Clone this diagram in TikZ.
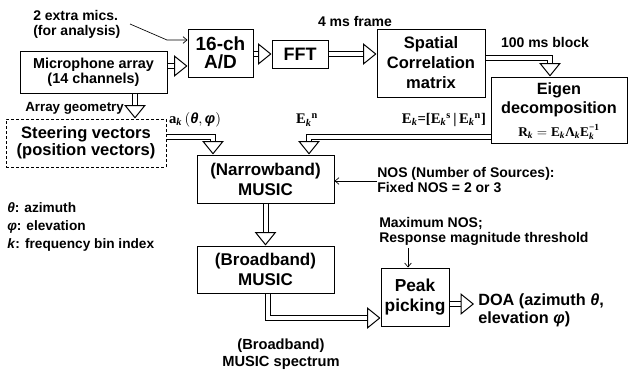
\documentclass[tikz,border=0pt]{standalone}
\usepackage{fontspec}
\usepackage{amsmath}
\setmainfont{Liberation Sans}
\newfontfamily\tms{Liberation Serif}
\usetikzlibrary{arrows.meta,calc}
\newcommand\bT[1]{\text{\tms\bfseries #1}}
\newcommand\kI{\text{\tms\bfseries\itshape k}}
\newcommand\gk[1]{\text{\bfseries\itshape #1}}
\begin{document}
\begin{tikzpicture}[x=0.75pt,y=-0.75pt,
  box/.style={draw, line width=0.75pt, inner sep=0pt, align=center, font=\bfseries\fontsize{12.4}{15}\selectfont},
  wh/.style 2 args={minimum width={#1*0.75pt}, minimum height={#2*0.75pt}},
  lbl/.style={inner sep=0pt, align=left, font=\bfseries\fontsize{10.5}{11.25}\selectfont},
  mlbl/.style={inner sep=0pt, font=\fontsize{11}{13}\selectfont},
  dbl/.style={double, double distance=3pt, line width=0.75pt, -{Triangle[open,length=10pt,width=16pt,fill=white]}},
  thinarrow/.style={line width=0.5pt, -{Straight Barb[length=3pt,width=5pt]}}]
\useasboundingbox (0,0) rectangle (629,371);

% boxes
\node[box, wh={147}{42}, font=\bfseries\fontsize{10.8}{11.25}\selectfont] (mic) at (93.5,72) {Microphone array\\(14 channels)};
\node[box, wh={65}{48}, font=\bfseries\fontsize{14.25}{13.9}\selectfont] (ad) at (220.5,53) {16-ch\\A/D};
\node[box, wh={56}{28}, font=\bfseries\fontsize{13.5}{16}\selectfont] (fft) at (300,54) {FFT};
\node[box, wh={108}{68}] (spat) at (431,63) {Spatial\\Correlation\\matrix};
\node[box, wh={136}{66}] (eig) at (559,110) {};
\node[align=center, inner sep=0pt, font=\bfseries\fontsize{12.2}{14}\selectfont] (eigtxt) at (559,100) {Eigen\\decomposition};
\node[inner sep=0pt, font=\fontsize{10}{11}\selectfont] (req) at (559,132) {$\bT{R}_{\kI} = \bT{E}_{\kI}\bT{Λ}_{\kI}\bT{E}_{\kI}^{\bT{−1}}$};
\node[box, wh={160}{48}, dashed, dash pattern=on 2.25pt off 1.5pt, font=\bfseries\fontsize{12.4}{12.75}\selectfont] (steer) at (86,143) {Steering vectors\\(position vectors)};
\node[box, wh={137}{48}, font=\bfseries\fontsize{12.75}{15}\selectfont] (nb) at (265.5,179) {(Narrowband)\\MUSIC};
\node[box, wh={137}{47}, font=\bfseries\fontsize{12.75}{15}\selectfont] (bb) at (265.5,269.5) {(Broadband)\\MUSIC};
\node[box, wh={68}{58}, font=\bfseries\fontsize{13}{14.5}\selectfont] (peak) at (415,297) {Peak\\picking};

% labels
\node[lbl, anchor=west] (extra) at (33,24.5) {2 extra mics.\\(for analysis)};
\node[lbl] (frame) at (355,21) {4 ms frame};
\node[lbl] (block) at (545,42) {100 ms block};
\node[lbl, anchor=west, font=\bfseries\fontsize{10}{11}\selectfont] (geom) at (25,108) {Array geometry};
\node[mlbl] (ak) at (195,120) {$\bT{a}_{\kI}\,(\gk{θ},\gk{φ})$};
\node[mlbl] (en) at (307,120) {$\bT{E}_{\kI}{}^{\bT{n}}$};
\node[mlbl] (ek) at (444,120) {$\bT{E}_{\kI}\bT{=[}\bT{E}_{\kI}{}^{\bT{s}}\,\bT{|}\,\bT{E}_{\kI}{}^{\bT{n}}\bT{]}$};
\node[lbl, anchor=west] (nos) at (377,180.5) {NOS (Number of Sources):\\Fixed NOS = 2 or 3};
\node[lbl, anchor=west, font=\bfseries\fontsize{10.25}{13.5}\selectfont] (legend) at (7,227) {\textit{θ}: azimuth\\\textit{φ}: elevation\\\textit{k}: frequency bin index};
\node[lbl, anchor=west] (maxnos) at (379,231.5) {Maximum NOS;\\Response magnitude threshold};
\node[lbl, anchor=west, font=\bfseries\fontsize{12.2}{13.5}\selectfont] (doa) at (478,310) {DOA (azimuth \textit{θ},\\elevation \textit{φ})};
\node[lbl, align=center, font=\bfseries\fontsize{11}{12.5}\selectfont] (spec) at (281,354) {(Broadband)\\MUSIC spectrum};

% double arrows
\draw[dbl] (mic.east |- 0,66) -- (ad.west |- 0,66);
\draw[dbl] (ad.east |- fft.west) -- (fft.west);
\draw[dbl] (fft.east) -- (fft.east -| spat.west);
\draw[dbl] (spat.east |- 0,58) -| (eig.north -| 550,0);
\draw[dbl] (eig.west |- 0,137) -| (nb.north -| 309,0);
\draw[dbl] (steer.east |- 0,137) -| (nb.north -| 213,0);
\draw[dbl] (mic.south -| 135,0) -- (steer.north -| 135,0);
\draw[dbl] (nb.south) -- (bb.north);
\draw[dbl] (bb.south -| 268,0) |- (peak.west |- 0,318);
\draw[dbl] (peak.east |- 0,304) -- ($(doa.west |- 0,304)+(-4,0)$);

% thin arrows
\coordinate (xa) at (130,24);
\draw[thinarrow] (xa) -- (167,40) -- (ad.west |- 0,40);
\coordinate (na) at (377,181);
\draw[thinarrow] (na) -- (na -| nb.east);
\coordinate (ra) at (408,248);
\draw[thinarrow] (ra) -- (ra |- peak.north);
\end{tikzpicture}
\end{document}
